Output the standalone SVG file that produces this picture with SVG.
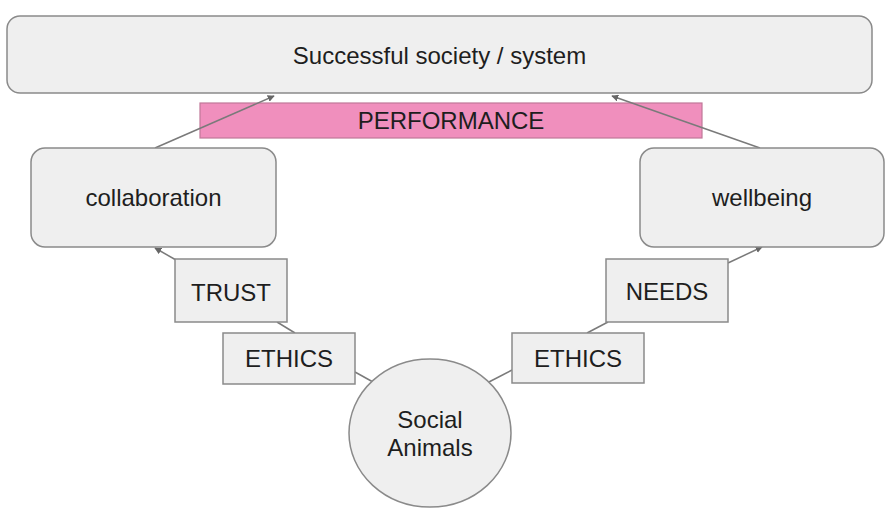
<svg xmlns="http://www.w3.org/2000/svg" width="895" height="512" viewBox="0 0 895 512">
<style>
.box{fill:#efefef;stroke:#8a8a8a;stroke-width:1.5}
.pink{fill:#f08fbd;stroke:#c07898;stroke-width:1.2}
.t{font-family:"Liberation Sans",Arial,sans-serif;font-size:24px;fill:#1e1e1e;text-anchor:middle}
.c{stroke:#7a7a7a;stroke-width:1.5;fill:none}
</style>
<defs>
<marker id="ah" viewBox="0 0 10 10" refX="9" refY="5" markerWidth="7" markerHeight="7" markerUnits="userSpaceOnUse" orient="auto">
<path d="M0,0 L10,5 L0,10 z" fill="#666"/>
</marker>
</defs>
<rect width="895" height="512" fill="#fff"/>
<g id="society"><rect class="box" x="7" y="16" width="865" height="77" rx="13"/><text class="t" x="439.5" y="64">Successful society / system</text></g>
<g id="performance"><rect class="pink" x="200" y="103" width="502" height="35"/><text class="t" x="451" y="129">PERFORMANCE</text></g>
<g id="connectors">
<line class="c" x1="155" y1="148" x2="274" y2="96" marker-end="url(#ah)"/>
<line class="c" x1="760" y1="148" x2="612" y2="96" marker-end="url(#ah)"/>
<line class="c" x1="176" y1="260" x2="155" y2="248" marker-end="url(#ah)"/>
<line class="c" x1="728" y1="263" x2="762" y2="247" marker-end="url(#ah)"/>
<line class="c" x1="277" y1="322" x2="295" y2="333"/>
<line class="c" x1="355" y1="372" x2="373" y2="382"/>
<line class="c" x1="487" y1="383" x2="512" y2="370"/>
<line class="c" x1="587" y1="333" x2="608" y2="322"/>
</g>
<g id="collaboration"><rect class="box" x="31" y="148" width="245" height="99" rx="14"/><text class="t" x="153.5" y="206">collaboration</text></g>
<g id="wellbeing"><rect class="box" x="640" y="148" width="244" height="99" rx="14"/><text class="t" x="762" y="206">wellbeing</text></g>
<g id="trust"><rect class="box" x="175" y="259" width="112" height="63"/><text class="t" x="231" y="301">TRUST</text></g>
<g id="needs"><rect class="box" x="606" y="259" width="122" height="63"/><text class="t" x="667" y="300">NEEDS</text></g>
<g id="ethics-left"><rect class="box" x="223" y="333" width="132" height="51"/><text class="t" x="289" y="367">ETHICS</text></g>
<g id="ethics-right"><rect class="box" x="512" y="333" width="132" height="50"/><text class="t" x="578" y="367">ETHICS</text></g>
<g id="social"><ellipse class="box" cx="430" cy="433" rx="81" ry="74"/><text class="t" x="430" y="428">Social</text><text class="t" x="430" y="456">Animals</text></g>
</svg>
